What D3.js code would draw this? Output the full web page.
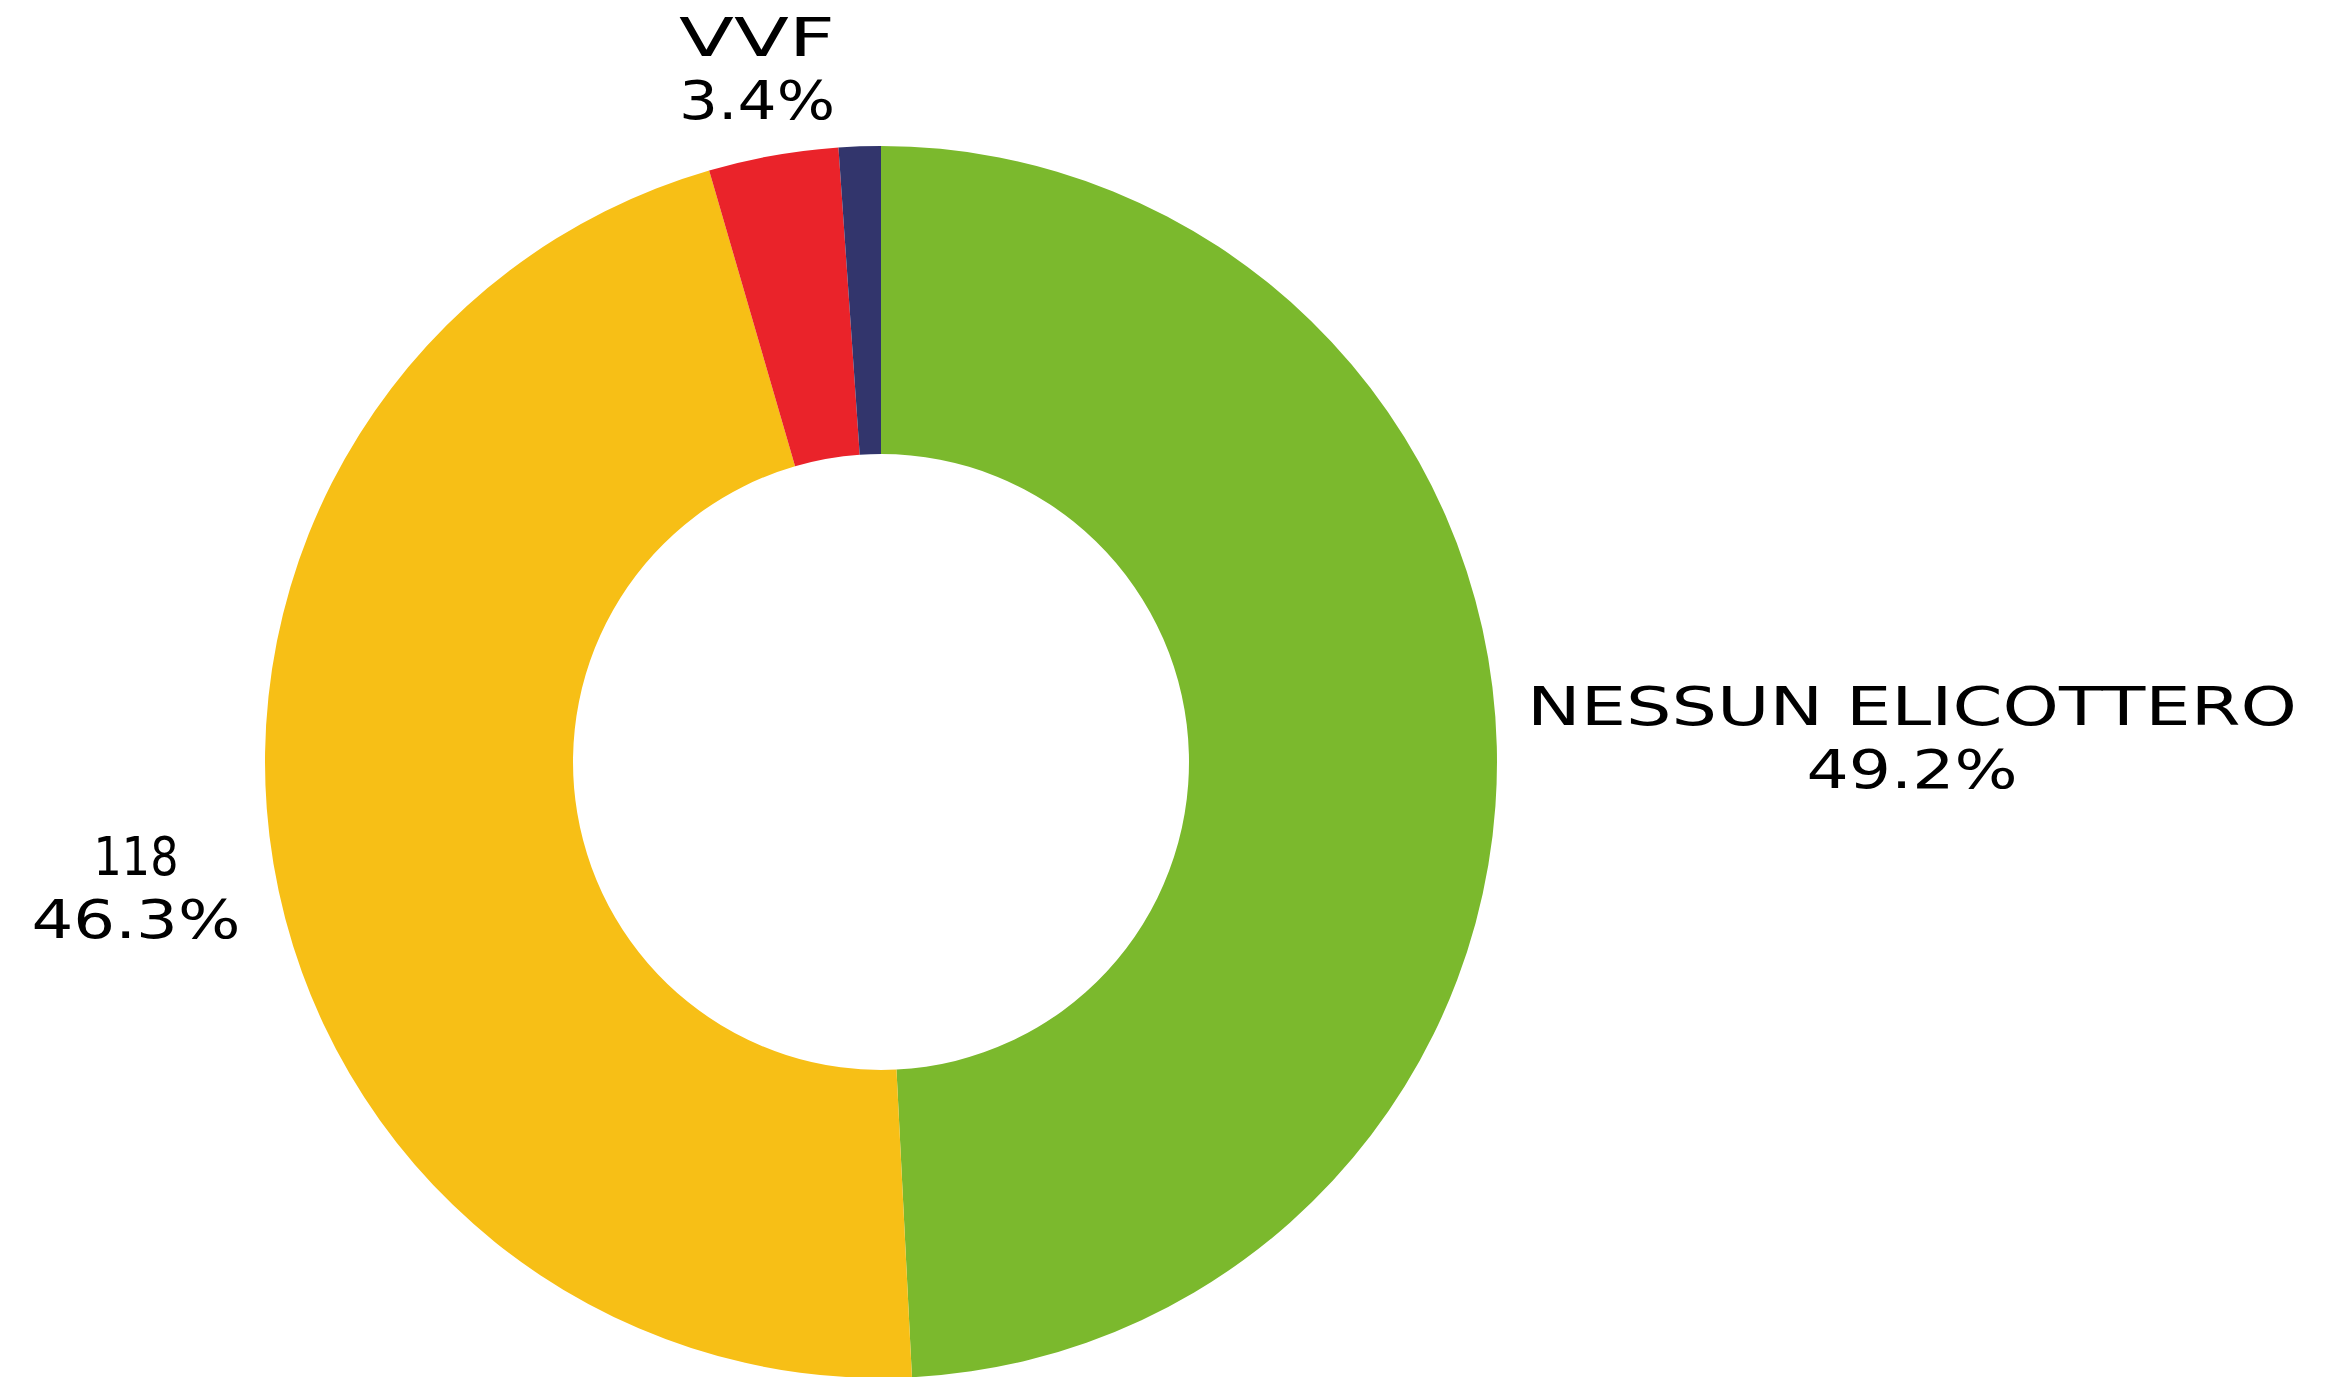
<!DOCTYPE html>
<html>
<head>
<meta charset="utf-8">
<script src="https://cdn.jsdelivr.net/npm/d3@7"></script>
<style>
  html, body { margin: 0; padding: 0; background: #fff; overflow: hidden; }
  text { font-family: "DejaVu Sans", sans-serif; fill: #000; }
</style>
</head>
<body>
<script>
// data
var categories = ['NESSUN ELICOTTERO', '118', 'VVF', 'ALTRO'];
var values = [49.2, 46.3, 3.4, 1.1];
var valueLabels = ['49.2%', '46.3%', '3.4%', ''];
var colors = ['#7BB92D', '#F7BF16', '#EA232A', '#32356C'];

var width = 2325, height = 1377;
var cx = 881, cy = 762, outerR = 616, innerR = 308;

// label layout: anchor point + widths of the two text lines (stretched font)
var labelLayout = [
  {x: 1912, y: 725, w1: 770, w2: 211, show: true},
  {x: 136, y: 875, w1: 85, w2: 209, show: true},
  {x: 757, y: 56, w1: 156, w2: 156, show: true},
  {show: false}
];

var svg = d3.select(document.body).append('svg')
  .attr('width', width).attr('height', height);

var pie = d3.pie().sort(null).value(function (d) { return d; });
var arc = d3.arc().innerRadius(innerR).outerRadius(outerR);

var g = svg.append('g').attr('transform', 'translate(' + cx + ',' + cy + ')');

g.selectAll('path')
  .data(pie(values))
  .enter().append('path')
  .attr('d', arc)
  .attr('fill', function (d, i) { return colors[i]; });

var fontSize = 53;
var lineGap = 63;

categories.forEach(function (c, i) {
  var L = labelLayout[i];
  if (!L.show) return;
  svg.append('text')
    .attr('x', L.x - L.w1 / 2).attr('y', L.y)
    .attr('font-size', fontSize)
    .attr('textLength', L.w1)
    .attr('lengthAdjust', 'spacingAndGlyphs')
    .text(c);
  svg.append('text')
    .attr('x', L.x - L.w2 / 2).attr('y', L.y + lineGap)
    .attr('font-size', fontSize)
    .attr('textLength', L.w2)
    .attr('lengthAdjust', 'spacingAndGlyphs')
    .text(valueLabels[i]);
});
</script>
</body>
</html>
